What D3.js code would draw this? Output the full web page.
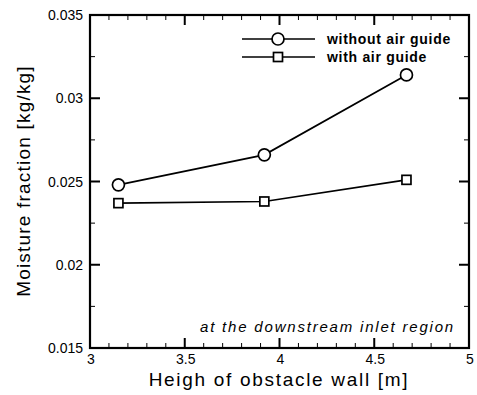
<!DOCTYPE html>
<html><head><meta charset="utf-8">
<script src="https://cdn.jsdelivr.net/npm/d3@7"></script>
<style>body{margin:0;background:#fff;} svg{display:block;} text{font-family:"Liberation Sans",Arial,sans-serif;}</style>
</head><body>
<svg id="c" width="477" height="395"></svg>
<script>
const heights = [3.15, 3.92, 4.67];
const withoutGuide = [0.0248, 0.0266, 0.0314];
const withGuide = [0.0237, 0.0238, 0.0251];
const xTicks = [3, 3.5, 4, 4.5, 5];
const xTickLabels = ["3", "3.5", "4", "4.5", "5"];
const yTicks = [0.015, 0.02, 0.025, 0.03, 0.035];
const yTickLabels = ["0.015", "0.02", "0.025", "0.03", "0.035"];
const seriesNames = ["without air guide", "with air guide"];

const svg = d3.select("#c");
const L = 90, R = 469, T = 15, B = 348;
const x = d3.scaleLinear().domain([3, 5]).range([L, R]);
const y = d3.scaleLinear().domain([0.015, 0.035]).range([B, T]);

const xMinor = d3.range(30, 51).map(d => d / 10).filter(d => !xTicks.some(t => Math.abs(t - d) < 1e-9));
const yMinor = d3.range(0, 4).map(i => 0.0175 + i * 0.005);

const g = svg.append("g").attr("stroke", "#000").attr("fill", "none");
xTicks.forEach(t => {
  g.append("line").attr("x1", x(t)).attr("x2", x(t)).attr("y1", B).attr("y2", B - 10).attr("stroke-width", 2);
  g.append("line").attr("x1", x(t)).attr("x2", x(t)).attr("y1", T).attr("y2", T + 10).attr("stroke-width", 2);
});
xMinor.forEach(t => {
  g.append("line").attr("x1", x(t)).attr("x2", x(t)).attr("y1", B).attr("y2", B - 5).attr("stroke-width", 1);
  g.append("line").attr("x1", x(t)).attr("x2", x(t)).attr("y1", T).attr("y2", T + 5).attr("stroke-width", 1);
});
yTicks.forEach(t => {
  g.append("line").attr("x1", L).attr("x2", L + 10).attr("y1", y(t)).attr("y2", y(t)).attr("stroke-width", 2);
  g.append("line").attr("x1", R).attr("x2", R - 10).attr("y1", y(t)).attr("y2", y(t)).attr("stroke-width", 2);
});
yMinor.forEach(t => {
  g.append("line").attr("x1", L).attr("x2", L + 5).attr("y1", y(t)).attr("y2", y(t)).attr("stroke-width", 1);
  g.append("line").attr("x1", R).attr("x2", R - 5).attr("y1", y(t)).attr("y2", y(t)).attr("stroke-width", 1);
});
g.append("rect").attr("x", L).attr("y", T).attr("width", R - L).attr("height", B - T).attr("stroke-width", 2.2);

xTicks.forEach((t, i) => {
  svg.append("text").attr("x", x(t) + 1).attr("y", B + 16).attr("text-anchor", "middle")
    .attr("font-size", 14).text(xTickLabels[i]);
});
yTicks.forEach((t, i) => {
  svg.append("text").attr("x", L - 7).attr("y", y(t) + 5).attr("text-anchor", "end")
    .attr("font-size", 14).text(yTickLabels[i]);
});

svg.append("text").attr("x", 279).attr("y", 386).attr("text-anchor", "middle")
  .attr("font-size", 19).attr("letter-spacing", 1.7).text("Heigh of obstacle wall [m]");
svg.append("text").attr("transform", "translate(30,181) rotate(-90)").attr("text-anchor", "middle")
  .attr("font-size", 19).attr("letter-spacing", 1.2).text("Moisture fraction [kg/kg]");

svg.append("text").attr("x", 455).attr("y", 332).attr("text-anchor", "end")
  .attr("font-size", 15).attr("font-style", "italic").attr("letter-spacing", 1.8).text("at the downstream inlet region");

const line = d3.line().x((d, i) => x(heights[i])).y(d => y(d));
svg.append("path").attr("d", line(withoutGuide)).attr("fill", "none").attr("stroke", "#000").attr("stroke-width", 1.7);
svg.append("path").attr("d", line(withGuide)).attr("fill", "none").attr("stroke", "#000").attr("stroke-width", 1.7);
svg.selectAll("circle.m").data(withoutGuide).enter().append("circle")
  .attr("cx", (d, i) => x(heights[i])).attr("cy", d => y(d)).attr("r", 6)
  .attr("fill", "#fff").attr("stroke", "#000").attr("stroke-width", 1.7);
svg.selectAll("rect.m").data(withGuide).enter().append("rect")
  .attr("x", (d, i) => x(heights[i]) - 4.5).attr("y", d => y(d) - 4.5).attr("width", 9).attr("height", 9)
  .attr("fill", "#fff").attr("stroke", "#000").attr("stroke-width", 1.7);

const legY = [39, 57];
legY.forEach((ly, i) => {
  svg.append("line").attr("x1", 242).attr("x2", 315).attr("y1", ly).attr("y2", ly).attr("stroke", "#000").attr("stroke-width", 1.4);
  if (i === 0) {
    svg.append("circle").attr("cx", 278).attr("cy", ly).attr("r", 6).attr("fill", "#fff").attr("stroke", "#000").attr("stroke-width", 1.7);
  } else {
    svg.append("rect").attr("x", 273.5).attr("y", ly - 4.5).attr("width", 9).attr("height", 9).attr("fill", "#fff").attr("stroke", "#000").attr("stroke-width", 1.7);
  }
  svg.append("text").attr("x", 327).attr("y", ly + 5).attr("font-size", 14).attr("font-weight", "bold")
    .attr("letter-spacing", 0.7).text(seriesNames[i]);
});
</script>
</body></html>
